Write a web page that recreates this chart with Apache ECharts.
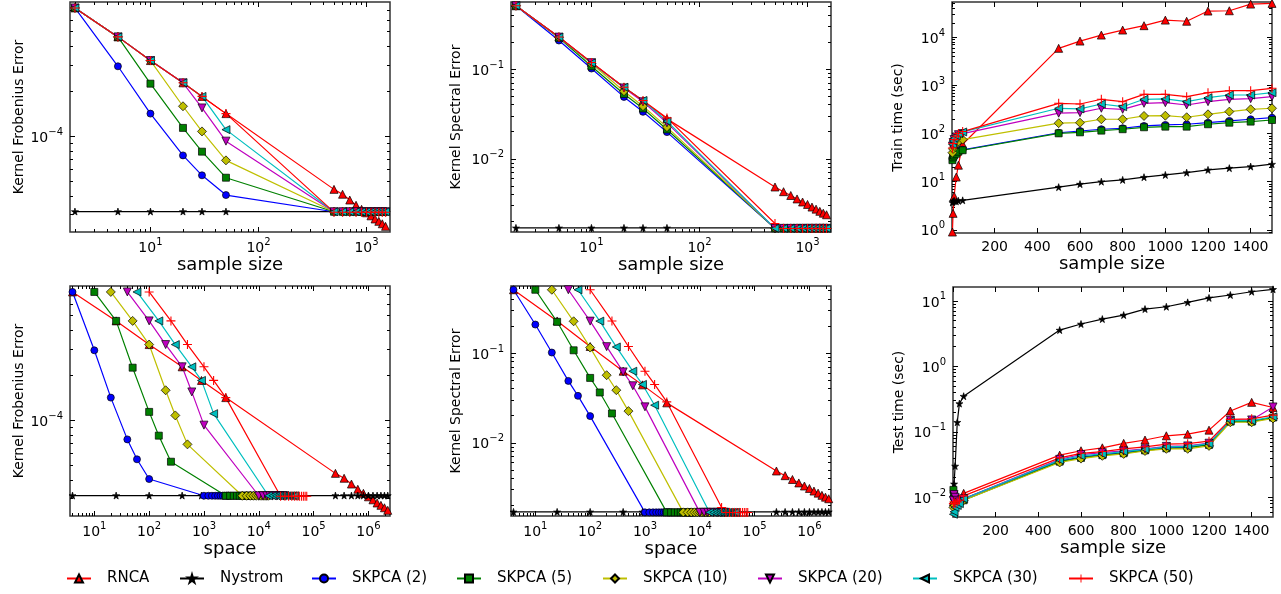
<!DOCTYPE html>
<html><head><meta charset="utf-8">
<script src="https://cdn.jsdelivr.net/npm/echarts@6/dist/echarts.min.js"></script>
<style>html,body{margin:0;padding:0;background:#fff}#c{width:1281px;height:594px}</style>
</head><body><div id="c"></div><script>
// ---------------- DATA ----------------
const sampleSize = [2,5,10,20,30,50,500,600,700,800,900,1000,1100,1200,1300,1400,1500];
const spaceRNCA    = [4,25,100,400,900,2500,250000,360000,490000,640000,810000,1000000,1210000,1440000,1690000,1960000,2250000];
const spaceNystrom = [4,25,100,400,900,2500,250000,360000,490000,640000,810000,1000000,1210000,1440000,1690000,1960000,2250000];
const spaceSK2  = [4,10,20,40,60,100,1000,1200,1400,1600,1800,2000,2200,2400,2600,2800,3000];
const spaceSK5  = [10,25,50,100,150,250,2500,3000,3500,4000,4500,5000,5500,6000,6500,7000,7500];
const spaceSK10 = [20,50,100,200,300,500,5000,6000,7000,8000,9000,10000,11000,12000,13000,14000,15000];
const spaceSK20 = [40,100,200,400,600,1000,10000,12000,14000,16000,18000,20000,22000,24000,26000,28000,30000];
const spaceSK30 = [60,150,300,600,900,1500,15000,18000,21000,24000,27000,30000,33000,36000,39000,42000,45000];
const spaceSK50 = [100,250,500,1000,1500,2500,25000,30000,35000,40000,45000,50000,55000,60000,65000,70000,75000];

const frobRNCA    = [7.21e-4,4.62e-4,3.21e-4,2.28e-4,1.85e-4,1.42e-4,4.43e-5,4.11e-5,3.76e-5,3.47e-5,3.26e-5,3.09e-5,2.95e-5,2.81e-5,2.71e-5,2.61e-5,2.51e-5];
const frobNystrom = [3.15e-5,3.15e-5,3.15e-5,3.15e-5,3.15e-5,3.15e-5,3.15e-5,3.15e-5,3.15e-5,3.15e-5,3.15e-5,3.15e-5,3.15e-5,3.15e-5,3.15e-5,3.15e-5,3.15e-5];
const frobSK2  = [7.21e-4,2.94e-4,1.42e-4,7.47e-5,5.50e-5,4.06e-5,3.14e-5,3.14e-5,3.14e-5,3.14e-5,3.14e-5,3.14e-5,3.14e-5,3.14e-5,3.14e-5,3.14e-5,3.14e-5];
const frobSK5  = [7.21e-4,4.62e-4,2.25e-4,1.14e-4,7.91e-5,5.30e-5,3.14e-5,3.14e-5,3.14e-5,3.14e-5,3.14e-5,3.14e-5,3.14e-5,3.14e-5,3.14e-5,3.14e-5,3.14e-5];
const frobSK10 = [7.21e-4,4.62e-4,3.21e-4,1.59e-4,1.08e-4,6.92e-5,3.14e-5,3.14e-5,3.14e-5,3.14e-5,3.14e-5,3.14e-5,3.14e-5,3.14e-5,3.14e-5,3.14e-5,3.14e-5];
const frobSK20 = [7.21e-4,4.62e-4,3.21e-4,2.28e-4,1.55e-4,9.30e-5,3.14e-5,3.14e-5,3.14e-5,3.14e-5,3.14e-5,3.14e-5,3.14e-5,3.14e-5,3.14e-5,3.14e-5,3.14e-5];
const frobSK30 = [7.21e-4,4.62e-4,3.21e-4,2.28e-4,1.85e-4,1.11e-4,3.14e-5,3.14e-5,3.14e-5,3.14e-5,3.14e-5,3.14e-5,3.14e-5,3.14e-5,3.14e-5,3.14e-5,3.14e-5];
const frobSK50 = [7.21e-4,4.62e-4,3.21e-4,2.28e-4,1.85e-4,1.42e-4,3.12e-5,3.12e-5,3.12e-5,3.12e-5,3.12e-5,3.12e-5,3.12e-5,3.12e-5,3.12e-5,3.12e-5,3.12e-5];

const specRNCA    = [0.505,0.227,0.118,0.0626,0.0441,0.0278,0.00485,0.0043,0.0039,0.00357,0.0033,0.0031,0.0029,0.00275,0.0026,0.00248,0.00238];
const specNystrom = [0.0017,0.0017,0.0017,0.0017,0.0017,0.0017,0.0017,0.0017,0.0017,0.0017,0.0017,0.0017,0.0017,0.0017,0.0017,0.0017,0.0017];
const specSK2  = [0.505,0.207,0.101,0.0488,0.0333,0.0198,0.00168,0.00168,0.00168,0.00168,0.00168,0.00168,0.00168,0.00168,0.00168,0.00168,0.00168];
const specSK5  = [0.505,0.222,0.107,0.0527,0.0363,0.0212,0.00168,0.00168,0.00168,0.00168,0.00168,0.00168,0.00168,0.00168,0.00168,0.00168,0.00168];
const specSK10 = [0.505,0.225,0.1147,0.0565,0.0385,0.0225,0.00168,0.00168,0.00168,0.00168,0.00168,0.00168,0.00168,0.00168,0.00168,0.00168,0.00168];
const specSK20 = [0.505,0.226,0.1175,0.0615,0.0431,0.0251,0.00168,0.00168,0.00168,0.00168,0.00168,0.00168,0.00168,0.00168,0.00168,0.00168,0.00168];
const specSK30 = [0.505,0.226,0.1166,0.0626,0.0446,0.0262,0.00168,0.00168,0.00168,0.00168,0.00168,0.00168,0.00168,0.00168,0.00168,0.00168,0.00168];
const specSK50 = [0.505,0.227,0.118,0.0626,0.0446,0.0285,0.0019,0.00167,0.00167,0.00167,0.00167,0.00167,0.00167,0.00167,0.00167,0.00167,0.00167];

const trainRNCA    = [0.9,2.2,5,12.5,22,60,5890,8330,11100,14100,17400,22700,21500,35000,35500,48800,50500];
const trainNystrom = [3.7,3.9,4.0,3.9,4.0,4.1,7.7,8.9,10.0,10.9,12.4,13.8,15.4,17.6,19.1,20.6,23.1];
const trainSK2  = [30,33,36,40,44,46,104,113,123,129,144,151,156,168,183,198,214];
const trainSK5  = [28,32,35,38,42,45,101,106,115,123,135,139,139,156,168,177,191];
const trainSK10 = [40,48,55,62,68,75,164,168,198,198,232,235,218,251,285,319,335];
const trainSK20 = [55,65,75,85,95,100,265,272,335,319,425,437,392,459,515,530,583];
const trainSK30 = [60,70,80,90,100,108,335,325,411,361,515,525,459,555,632,632,706];
const trainSK50 = [50,62,75,88,100,110,425,411,515,459,653,653,583,706,776,776,871];

const testRNCA    = [0.0085,0.009,0.0085,0.009,0.0095,0.0115,0.044,0.0514,0.057,0.0667,0.075,0.087,0.092,0.106,0.208,0.282,0.235];
const testNystrom = [0.008,0.016,0.03,0.14,0.27,0.35,3.58,4.43,5.27,6.07,7.5,8.13,9.5,11.1,12.3,13.8,15.0];
const testSK2  = [0.01,0.0095,0.009,0.0085,0.009,0.0095,0.036,0.041,0.045,0.048,0.053,0.057,0.058,0.064,0.145,0.145,0.165];
const testSK5  = [0.013,0.011,0.0095,0.009,0.0085,0.009,0.035,0.040,0.044,0.047,0.052,0.056,0.057,0.063,0.143,0.143,0.165];
const testSK10 = [0.007,0.008,0.0075,0.008,0.0085,0.009,0.034,0.039,0.043,0.046,0.051,0.055,0.055,0.061,0.14,0.14,0.16];
const testSK20 = [0.009,0.011,0.01,0.009,0.0085,0.0095,0.038,0.045,0.048,0.051,0.055,0.060,0.061,0.067,0.15,0.152,0.24];
const testSK30 = [0.0055,0.006,0.007,0.0075,0.008,0.0095,0.037,0.043,0.046,0.050,0.054,0.059,0.060,0.066,0.148,0.148,0.17];
const testSK50 = [0.008,0.0085,0.008,0.0085,0.009,0.0105,0.040,0.047,0.050,0.055,0.059,0.065,0.066,0.072,0.155,0.158,0.18];

const methodNames = ['RNCA','Nystrom','SKPCA (2)','SKPCA (5)','SKPCA (10)','SKPCA (20)','SKPCA (30)','SKPCA (50)'];

// ---------------- STYLE / LAYOUT ----------------
const FONT = 'DejaVu Sans';
const STAR = 'path://M50,0 L61,35 L98,35 L68,57 L79,91 L50,70 L21,91 L32,57 L2,35 L39,35 Z';
const PLUS = 'path://M4.4,0 L5.6,0 L5.6,4.4 L10,4.4 L10,5.6 L5.6,5.6 L5.6,10 L4.4,10 L4.4,5.6 L0,5.6 L0,4.4 L4.4,4.4 Z';
const styles = [
  {color:'#ff0000', symbol:'triangle', size:8, rot:0},
  {color:'#000000', symbol:STAR, size:7, rot:0},
  {color:'#0000ff', symbol:'circle', size:7, rot:0},
  {color:'#008000', symbol:'rect', size:7, rot:0},
  {color:'#bfbf00', symbol:'diamond', size:9, rot:0},
  {color:'#bf00bf', symbol:'triangle', size:8, rot:180},
  {color:'#00bfbf', symbol:'triangle', size:8, rot:90},
  {color:'#ff0000', symbol:PLUS, size:9, rot:0, noBorder:true}
];
const legendLeft = [61,174,306,451,597,752,907,1063];

const gridBoxes = [
  {left:70, top:2, width:320, height:230},
  {left:511, top:2, width:320, height:230},
  {left:952, top:2, width:320, height:231},
  {left:70, top:286, width:320, height:230},
  {left:511, top:286, width:320, height:230},
  {left:953, top:287, width:320, height:230}
];
const grids = gridBoxes.map(g => Object.assign({}, g, {show:true, borderColor:'#333', borderWidth:1.5, backgroundColor:'rgba(0,0,0,0)'}));

const rich = {
  b:{fontSize:14, fontFamily:FONT, color:'#000', verticalAlign:'bottom', lineHeight:18},
  s:{fontSize:10, fontFamily:FONT, color:'#000', verticalAlign:'top', lineHeight:10}
};
function lg(v){ return Math.log(v)/Math.LN10; }
function supFmt(v){ const e = Math.round(lg(v)); return '{b|10}{s|' + (e < 0 ? '\u2212' + (-e) : e) + '}'; }
function ticksFor(min, max){
  const a = lg(min), b = lg(max), maj = [], mnr = [];
  for (let e = Math.floor(a); e <= Math.ceil(b); e++) {
    if (e >= a && e <= b) maj.push(e);
    for (let m = 2; m <= 9; m++) { const t = e + lg(m); if (t > a && t < b) mnr.push(t); }
  }
  return {a, b, maj, mnr};
}
const xAxes = [], yAxes = [];
const nameStyleX = {fontSize:18, fontFamily:FONT, color:'#000'};
const nameStyleY = {fontSize:14, fontFamily:FONT, color:'#000'};
const tickLine = {color:'#000', width:1};
const noLine = () => ({show:false, onZero:false});
const MAJ = 5, MIN = 3;

function addLogAxis(list, dim, g, min, max, name, nameGap){
  const mainPos = dim === 'x' ? 'bottom' : 'left';
  const idx = list.length;
  list.push({type:'log', logBase:10, gridIndex:g, min, max, position:mainPos,
    name, nameLocation:'middle', nameGap, nameTextStyle: dim === 'x' ? nameStyleX : nameStyleY,
    axisLine:noLine(), splitLine:{show:false},
    axisTick:{show: dim === 'x', inside:true, length:MAJ, lineStyle:tickLine},
    axisLabel:{formatter:supFmt, rich, margin: dim === 'x' ? 5 : 7, showMinLabel:false, showMaxLabel:false}});
  const t = ticksFor(min, max);
  const aux = (pos, vals, len, inside, offset) => ({type:'value', gridIndex:g, min:t.a, max:t.b, position:pos, offset:offset || 0,
    axisLine:noLine(), axisLabel:{show:false}, splitLine:{show:false},
    axisTick:{show:true, inside, length:len, customValues:vals, lineStyle:tickLine}});
  if (dim === 'x') {
    list.push(aux('bottom', t.mnr, MIN, true), aux('top', t.maj, MAJ, true), aux('top', t.mnr, MIN, true));
  } else {
    const w = gridBoxes[g].width;
    // left-side ticks drawn by right-positioned axes shifted onto the left frame, ticks pointing into the plot
    list.push(aux('right', t.maj, MAJ, false, -w), aux('right', t.mnr, MIN, false, -w),
              aux('right', t.maj, MAJ, true), aux('right', t.mnr, MIN, true));
  }
  return idx;
}
function addLinAxis(list, g, min, max, interval, name, nameGap){
  const idx = list.length;
  list.push({type:'value', gridIndex:g, min, max, interval, position:'bottom',
    name, nameLocation:'middle', nameGap, nameTextStyle:nameStyleX,
    axisLine:noLine(), splitLine:{show:false},
    axisTick:{show:true, inside:true, length:MAJ, lineStyle:tickLine},
    axisLabel:{fontSize:14, fontFamily:FONT, color:'#000', margin:7, showMinLabel:false, showMaxLabel:false,
      formatter: v => String(v)}});
  list.push({type:'value', gridIndex:g, min, max, interval, position:'top',
    axisLine:noLine(), splitLine:{show:false}, axisLabel:{show:false},
    axisTick:{show:true, inside:true, length:MAJ, lineStyle:tickLine}});
  return idx;
}

const panels = [
  {x: addLogAxis(xAxes,'x',0,1.8,1650,'sample size',20), y: addLogAxis(yAxes,'y',0,2.3e-5,7.9e-4,'Kernel Frobenius Error',44),
   xs:[sampleSize,sampleSize,sampleSize,sampleSize,sampleSize,sampleSize,sampleSize,sampleSize],
   ys:[frobRNCA,frobNystrom,frobSK2,frobSK5,frobSK10,frobSK20,frobSK30,frobSK50]},
  {x: addLogAxis(xAxes,'x',1,1.8,1650,'sample size',20), y: addLogAxis(yAxes,'y',1,0.00153,0.556,'Kernel Spectral Error',48),
   xs:[sampleSize,sampleSize,sampleSize,sampleSize,sampleSize,sampleSize,sampleSize,sampleSize],
   ys:[specRNCA,specNystrom,specSK2,specSK5,specSK10,specSK20,specSK30,specSK50]},
  {x: addLinAxis(xAxes,2,0,1500,200,'sample size',20), y: addLogAxis(yAxes,'y',2,0.86,54000,'Train time (sec)',47),
   xs:[sampleSize,sampleSize,sampleSize,sampleSize,sampleSize,sampleSize,sampleSize,sampleSize],
   ys:[trainRNCA,trainNystrom,trainSK2,trainSK5,trainSK10,trainSK20,trainSK30,trainSK50]},
  {x: addLogAxis(xAxes,'x',3,3.6,2.475e6,'space',20), y: addLogAxis(yAxes,'y',3,2.3e-5,7.9e-4,'Kernel Frobenius Error',44),
   xs:[spaceRNCA,spaceNystrom,spaceSK2,spaceSK5,spaceSK10,spaceSK20,spaceSK30,spaceSK50],
   ys:[frobRNCA,frobNystrom,frobSK2,frobSK5,frobSK10,frobSK20,frobSK30,frobSK50]},
  {x: addLogAxis(xAxes,'x',4,3.6,2.475e6,'space',20), y: addLogAxis(yAxes,'y',4,0.00153,0.556,'Kernel Spectral Error',48),
   xs:[spaceRNCA,spaceNystrom,spaceSK2,spaceSK5,spaceSK10,spaceSK20,spaceSK30,spaceSK50],
   ys:[specRNCA,specNystrom,specSK2,specSK5,specSK10,specSK20,specSK30,specSK50]},
  {x: addLinAxis(xAxes,5,0,1500,200,'sample size',20), y: addLogAxis(yAxes,'y',5,0.005,16.3,'Test time (sec)',47),
   xs:[sampleSize,sampleSize,sampleSize,sampleSize,sampleSize,sampleSize,sampleSize,sampleSize],
   ys:[testRNCA,testNystrom,testSK2,testSK5,testSK10,testSK20,testSK30,testSK50]}
];

const series = [];
panels.forEach(p => {
  methodNames.forEach((name, i) => {
    const st = styles[i];
    series.push({type:'line', name, xAxisIndex:p.x, yAxisIndex:p.y,
      data: p.xs[i].map((x, k) => [x, p.ys[i][k]]),
      symbol: st.symbol, symbolSize: st.size, symbolRotate: st.rot, showAllSymbol:true,
      lineStyle:{color:st.color, width:1.2},
      itemStyle:{color:st.color, borderColor: st.noBorder ? st.color : '#000', borderWidth: st.noBorder ? 0 : 0.7},
      emphasis:{disabled:true}, animation:false});
  });
});

const legends = methodNames.map((name, i) => ({
  data:[name], left:legendLeft[i], top:566, itemWidth:24, itemHeight:10, selectedMode:false,
  textStyle:{fontSize:15, fontFamily:FONT, color:'#000', padding:[0,0,0,11]}
}));

const chart = echarts.init(document.getElementById('c'), null, {renderer:'canvas'});
chart.setOption({animation:false, backgroundColor:'#fff', textStyle:{fontFamily:FONT},
  grid:grids, xAxis:xAxes, yAxis:yAxes, series, legend:legends});
</script></body></html>
